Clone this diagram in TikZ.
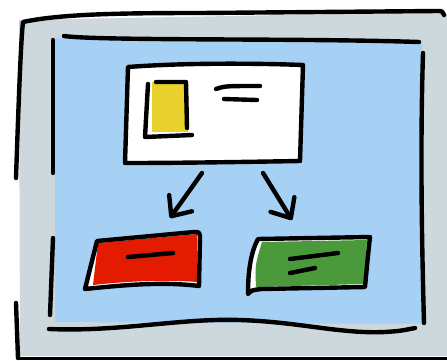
\documentclass[tikz,border=0pt]{standalone}
\usepackage{tikz}
\usetikzlibrary{arrows.meta,calc}
\definecolor{mygray}{RGB}{205,216,221}
\definecolor{myblue}{RGB}{166,209,245}
\definecolor{myred}{RGB}{227,27,0}
\definecolor{mygreen}{RGB}{74,154,59}
\definecolor{myyellow}{RGB}{233,210,46}

\begin{document}
\begin{tikzpicture}[
      x=1pt, y=-1pt,
      ink/.style={draw=black, line width=4.4pt, line cap=round, line join=round},
      thinink/.style={ink, line width=3pt},
      arr/.style={ink, -{Straight Barb[round, length=16pt, width=28pt]}}
    ]
    \useasboundingbox (0,0) rectangle (447,360);
    % board
    \fill[mygray] (19,20) -- (440,12) -- (447,14) -- (447,356) -- (20,356) -- cycle;
    \fill[myblue] (55,38) -- (422,41) -- (425,324) -- (55,322) -- cycle;
    \draw[ink] (16,178) .. controls (19,90) and (21,40) .. (23,22)
               .. controls (60,14) and (120,13) .. (200,13) -- (438,11)
               .. controls (442,11) .. (444,15);
    \draw[ink] (16,303) -- (18,358);
    \draw[thinink] (18,358.5) -- (447,358.5);
    \draw[ink] (64,36) .. controls (100,41) and (300,38) .. (419,42);
    \draw[ink] (53,40) -- (53,173);
    \draw[ink] (53,238) -- (50,315);
    \draw[ink] (423,53) .. controls (420,150) and (422,250) .. (424,323);
    \draw[ink] (49,329) .. controls (120,332) and (180,318) .. (240,320)
               .. controls (300,322) and (340,334) .. (385,332)
               .. controls (400,331) .. (415,328);
    % card
    \draw[ink, fill=white] (128,67) .. controls (180,63) and (250,63) .. (303,65)
               -- (300,161) .. controls (240,162) and (180,163) .. (125,163) -- cycle;
    \fill[myyellow] (152,82) rectangle (188,132);
    \draw[ink] (148,84) -- (145,137) -- (192,135);
    \draw[ink] (156,82) -- (186,82) -- (187,128);
    \draw[ink] (216,89) .. controls (225,86) .. (260,86);
    \draw[ink] (224,99) -- (257,100);
    % arrows
    \coordinate (leftfrom) at (202,173);
    \coordinate (leftto) at (170,218);
    \coordinate (rightfrom) at (263,173);
    \coordinate (rightto) at (292,220);
    \draw[arr] (leftfrom) -- (leftto);
    \draw[arr] (rightfrom) -- (rightto);
    % red box
    \fill[white] (97,241) -- (194,232) .. controls (199,232) .. (200,236) -- (199,286)
               .. controls (160,281) and (115,286) .. (85,289) -- cycle;
    \fill[myred] (98,243) -- (197,234) -- (197,282) .. controls (160,279) and (120,282) .. (93,285) -- cycle;
    \draw[ink] (97,241) -- (194,232) .. controls (199,232) .. (200,236) -- (199,286)
               .. controls (160,281) and (115,286) .. (85,289) -- cycle;
    \draw[ink] (128,257) -- (173,253);
    % green box
    \fill[white] (258,239) -- (370,237) .. controls (368,255) .. (365,287) -- (262,289)
               .. controls (252,290) .. (248,294) .. controls (248,270) and (251,252) .. (258,239) -- cycle;
    \fill[mygreen] (262,242) -- (367,240) -- (364,284) -- (256,287)
               .. controls (255,265) .. (262,242) -- cycle;
    \draw[ink] (258,239) -- (370,237) .. controls (368,255) .. (365,287) -- (262,289)
               .. controls (252,290) .. (248,294) .. controls (248,270) and (251,252) .. (258,239) -- cycle;
    \draw[ink] (290,259) -- (338,253);
    \draw[ink] (290,273) -- (315,268);
\end{tikzpicture}
\end{document}
